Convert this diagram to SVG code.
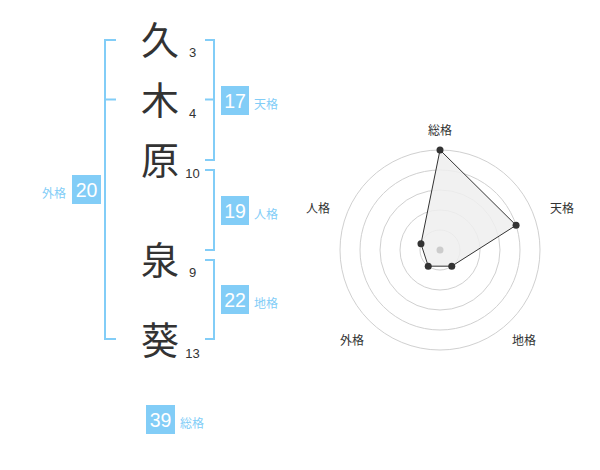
<svg xmlns="http://www.w3.org/2000/svg" width="600" height="470" viewBox="0 0 600 470">
<style>
.ch{font-family:"Noto Sans CJK JP","Noto Sans CJK SC",sans-serif;font-size:38px;fill:#333;text-anchor:middle}
.st{font-family:"Liberation Sans",Arial,sans-serif;font-size:13px;fill:#333;text-anchor:middle}
.br{fill:none;stroke:#82cdf7;stroke-width:2}
.box{fill:#82cdf7}
.bn{font-family:"Liberation Sans",Arial,sans-serif;font-size:19.5px;fill:#fff;text-anchor:middle}
.lb{font-family:"Noto Sans CJK JP","Noto Sans CJK SC",sans-serif;font-size:12px;fill:#82cdf7}
.ring{fill:none;stroke:#d0d0d0;stroke-width:1}
.rl{font-family:"Noto Sans CJK JP","Noto Sans CJK SC",sans-serif;font-size:12px;fill:#333;text-anchor:middle}
.pt{fill:#333}
</style>
<rect width="600" height="470" fill="#fff"/>
<g id="chars">
<g id="c1"><text class="ch" x="160" y="54">久</text><text class="st" x="192.5" y="57">3</text></g>
<g id="c2"><text class="ch" x="160" y="114">木</text><text class="st" x="192.5" y="118">4</text></g>
<g id="c3"><text class="ch" x="160" y="174">原</text><text class="st" x="192.5" y="178">10</text></g>
<g id="c4"><text class="ch" x="160" y="274">泉</text><text class="st" x="192.5" y="277">9</text></g>
<g id="c5"><text class="ch" x="160" y="354">葵</text><text class="st" x="192.5" y="358">13</text></g>
</g>
<g id="connectors">
<path class="br" d="M116,40 H105 V339 H116 M105,99.5 H116"/>
<path class="br" d="M205,40 H214 V160 H205 M214,99.5 H205"/>
<path class="br" d="M205,170 H214 V250 H205"/>
<path class="br" d="M205,260 H214 V339 H205"/>
</g>
<g id="tenkaku"><rect class="box" x="221" y="86" width="28" height="29"/><text class="bn" x="235" y="107.5">17</text><text class="lb" x="254" y="109">天格</text></g>
<g id="jinkaku"><rect class="box" x="221" y="196" width="28" height="29"/><text class="bn" x="235" y="217.5">19</text><text class="lb" x="254" y="219">人格</text></g>
<g id="chikaku"><rect class="box" x="221" y="285" width="28" height="29"/><text class="bn" x="235" y="306.5">22</text><text class="lb" x="254" y="308">地格</text></g>
<g id="gaikaku"><rect class="box" x="72" y="175" width="29" height="29"/><text class="bn" x="86.5" y="196.5">20</text><text class="lb" x="66" y="198" text-anchor="end">外格</text></g>
<g id="soukaku"><rect class="box" x="146" y="405" width="29" height="29"/><text class="bn" x="160.5" y="426.5">39</text><text class="lb" x="180" y="428">総格</text></g>
<g id="radar">
<circle class="ring" cx="440" cy="250" r="20"/>
<circle class="ring" cx="440" cy="250" r="40"/>
<circle class="ring" cx="440" cy="250" r="60"/>
<circle class="ring" cx="440" cy="250" r="80"/>
<circle class="ring" cx="440" cy="250" r="100"/>
<polygon points="440,150 516.08,225.28 451.76,266.18 428.24,266.18 420.98,243.82" fill="#eee" fill-opacity="0.85" stroke="#333" stroke-width="1"/>
<circle cx="440" cy="250" r="3.5" fill="#ccc"/>
<circle class="pt" cx="440" cy="150" r="3.5"/>
<circle class="pt" cx="516.08" cy="225.28" r="3.5"/>
<circle class="pt" cx="451.76" cy="266.18" r="3.5"/>
<circle class="pt" cx="428.24" cy="266.18" r="3.5"/>
<circle class="pt" cx="420.98" cy="243.82" r="3.5"/>
<text class="rl" x="440" y="135">総格</text>
<text class="rl" x="562" y="213">天格</text>
<text class="rl" x="524" y="345">地格</text>
<text class="rl" x="352" y="345">外格</text>
<text class="rl" x="318" y="213">人格</text>
</g>
</svg>
